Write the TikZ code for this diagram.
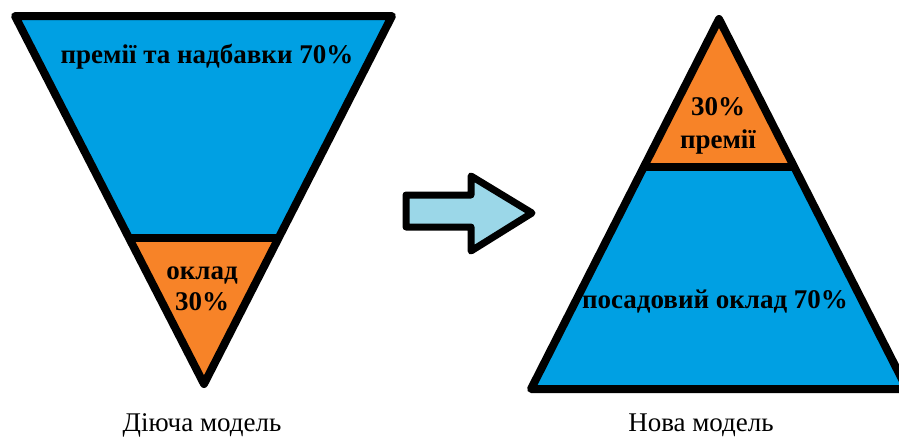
\documentclass[tikz,border=0pt]{standalone}
\usepackage{fontspec}
\setmainfont{Liberation Serif}
\usetikzlibrary{calc}
\definecolor{tblue}{RGB}{0,160,227}
\definecolor{torange}{RGB}{247,131,40}
\definecolor{tarrow}{RGB}{155,215,232}
\tikzset{
  outline/.style={draw=black,line width=8pt,line join=round},
  lbl/.style={font=\fontsize{27}{31}\selectfont\bfseries,align=center,inner sep=0pt},
  captext/.style={font=\fontsize{27}{31}\selectfont,inner sep=0pt}
}
\begin{document}
\begin{tikzpicture}[x=1pt,y=-1pt]
\useasboundingbox (0,0) rectangle (899,439);
% inverted triangle
\coordinate (tl) at (15,16);
\coordinate (tr) at (392,16);
\coordinate (tb) at (204,384);
\coordinate (dl) at ($(tl)!0.603!(tb)$);
\coordinate (dr) at ($(tr)!0.603!(tb)$);
\fill[tblue] (tl) -- (tr) -- (dr) -- (dl) -- cycle;
\fill[torange] (dl) -- (dr) -- (tb) -- cycle;
\draw[outline] (tl) -- (tr) -- (tb) -- cycle;
\draw[outline] (dl) -- (dr);
\node[lbl] (t1) at (207,57) {премії та надбавки 70\%};
\node[lbl] (t2) at (202,289) {оклад\\30\%};
\node[captext] (c1) at (202,425) {Діюча модель};
% arrow
\coordinate (a1) at (406,195);
\coordinate (a2) at (471,195);
\coordinate (a3) at (471,176);
\coordinate (a4) at (532,213);
\coordinate (a5) at (471,251);
\coordinate (a6) at (471,227);
\coordinate (a7) at (406,227);
\draw[outline,fill=tarrow,line width=7pt] (a1) -- (a2) -- (a3) -- (a4) -- (a5) -- (a6) -- (a7) -- cycle;
% pyramid
\coordinate (pa) at (719,19);
\coordinate (pl) at (531,389);
\coordinate (pr) at (907,389);
\coordinate (ql) at ($(pa)!0.4!(pl)$);
\coordinate (qr) at ($(pa)!0.4!(pr)$);
\fill[torange] (pa) -- (qr) -- (ql) -- cycle;
\fill[tblue] (ql) -- (qr) -- (pr) -- (pl) -- cycle;
\draw[outline] (pa) -- (pr) -- (pl) -- cycle;
\draw[outline] (ql) -- (qr);
\node[lbl] (p1) at (718,126) {30\%\\[2pt]премії};
\node[lbl] (p2) at (715,302) {посадовий оклад 70\%};
\node[captext] (c2) at (701,425) {Нова модель};
\end{tikzpicture}
\end{document}
